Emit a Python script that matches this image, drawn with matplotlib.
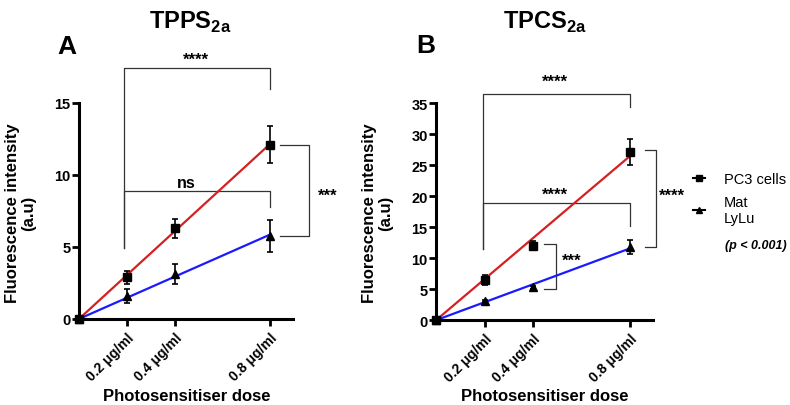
import numpy as np
import matplotlib
matplotlib.use("Agg")
import matplotlib.pyplot as plt
from matplotlib.lines import Line2D

plt.rcParams['font.family'] = ['Liberation Sans', 'DejaVu Sans']
plt.rcParams['mathtext.fontset'] = 'custom'
plt.rcParams['mathtext.rm'] = 'Liberation Sans'
plt.rcParams['mathtext.bf'] = 'Liberation Sans:bold'

# donnees
dose = [0, 0.2, 0.4, 0.8]
dose_labels = ['0.2 μg/ml', '0.4 μg/ml', '0.8 μg/ml']

tpps_pc3 = [0, 2.9, 6.3, 12.1]
tpps_pc3_err = [0, 0.45, 0.65, 1.3]
tpps_mat = [0, 1.6, 3.1, 5.75]
tpps_mat_err = [0, 0.5, 0.7, 1.1]

tpcs_pc3 = [0, 6.5, 12.0, 27.2]
tpcs_pc3_err = [0, 0.8, 0.7, 2.1]
tpcs_mat = [0, 3.1, 5.3, 11.8]
tpcs_mat_err = [0, 0.2, 0.2, 1.2]

RED = '#d62020'
BLUE = '#1a1aff'


def droite(x, y):
    # regression passant par l'origine
    x = np.array(x)
    y = np.array(y)
    pente = (x * y).sum() / (x * x).sum()
    return [0, 0.8], [0, pente * 0.8]


def crochet(ax, xs, ys, lw=0.9):
    ax.plot(xs, ys, color='#333333', lw=lw, clip_on=False, zorder=1)


def panneau(ax, pc3, pc3_err, mat, mat_err, ymax, ystep):
    xr, yr = droite(dose, pc3)
    xb, yb = droite(dose, mat)
    ax.plot(xr, yr, color=RED, lw=1.6, zorder=2)
    ax.plot(xb, yb, color=BLUE, lw=1.6, zorder=2)
    ax.errorbar(dose, pc3, yerr=pc3_err, fmt='s', color='black', ms=5.5,
                capsize=2.5, elinewidth=1.2, capthick=1.2, clip_on=False, zorder=3)
    ax.errorbar(dose, mat, yerr=mat_err, fmt='^', color='black', ms=5.5,
                capsize=2.5, elinewidth=1.2, capthick=1.2, clip_on=False, zorder=3)
    ax.set_xlim(0, 0.895)
    ax.set_ylim(0, ymax)
    ax.set_yticks(np.arange(0, ymax + 1, ystep))
    ax.set_xticks(dose[1:])
    ax.set_xticklabels(dose_labels, rotation=45, ha='right', rotation_mode='anchor',
                       fontsize=10, fontweight='bold')
    for lab in ax.get_yticklabels():
        lab.set_fontweight('bold')
        lab.set_fontsize(10.5)
    for s in ['top', 'right']:
        ax.spines[s].set_visible(False)
    for s in ['left', 'bottom']:
        ax.spines[s].set_linewidth(2.2)
    ax.tick_params(width=2, length=5, pad=1)
    ax.tick_params(axis='x', pad=3)


fig = plt.figure(figsize=(7.9, 4.06), dpi=100)

# Panneau A : TPPS2a
ax1 = fig.add_axes([0.100, 0.212, 0.271, 0.532])
panneau(ax1, tpps_pc3, tpps_pc3_err, tpps_mat, tpps_mat_err, 15, 5)
crochet(ax1, [0.19, 0.19, 0.8, 0.8], [4.9, 17.4, 17.4, 16.0])
ax1.text(0.49, 18.0, '****', ha='center', va='center', fontsize=12, fontweight='bold')
crochet(ax1, [0.19, 0.19, 0.8, 0.8], [4.9, 8.85, 8.85, 7.8])
ax1.text(0.45, 9.5, 'ns', ha='center', va='center', fontsize=11.5, fontweight='bold')
crochet(ax1, [0.842, 0.962, 0.962, 0.842], [12.1, 12.1, 5.75, 5.75])
ax1.text(1.0, 8.6, '***', ha='left', va='center', fontsize=12, fontweight='bold')

# Panneau B : TPCS2a
ax2 = fig.add_axes([0.552, 0.209, 0.275, 0.534])
panneau(ax2, tpcs_pc3, tpcs_pc3_err, tpcs_mat, tpcs_mat_err, 35, 5)
crochet(ax2, [0.192, 0.192, 0.8, 0.8], [11.5, 36.5, 36.5, 34.4])
ax2.text(0.49, 38.6, '****', ha='center', va='center', fontsize=12, fontweight='bold')
crochet(ax2, [0.192, 0.192, 0.8, 0.8], [11.5, 18.9, 18.9, 15.2])
ax2.text(0.49, 20.4, '****', ha='center', va='center', fontsize=12, fontweight='bold')
crochet(ax2, [0.859, 0.904, 0.904, 0.859], [27.5, 27.5, 11.8, 11.8])
ax2.text(0.917, 20.2, '****', ha='left', va='center', fontsize=12, fontweight='bold')
crochet(ax2, [0.444, 0.495, 0.495, 0.444], [12.3, 12.3, 5.1, 5.1])
ax2.text(0.52, 9.7, '***', ha='left', va='center', fontsize=12, fontweight='bold')

# titres et lettres
fig.text(190 / 790, 1 - 22 / 406, r'TPPS$_\mathbf{2a}$', ha='center', va='center',
         fontsize=17, fontweight='bold')
fig.text(545 / 790, 1 - 22 / 406, r'TPCS$_\mathbf{2a}$', ha='center', va='center',
         fontsize=17, fontweight='bold')
fig.text(57 / 790, 1 - 47 / 406, 'A', ha='left', va='center', fontsize=19, fontweight='bold')
fig.text(416 / 790, 1 - 46 / 406, 'B', ha='left', va='center', fontsize=19, fontweight='bold')

# etiquettes des axes
for xc in [21, 378]:
    fig.text(xc / 790, 1 - 213 / 406, 'Fluorescence intensity\n(a.u)', rotation=90,
             ha='center', va='center', multialignment='center',
             fontsize=12, fontweight='bold', linespacing=1.1)
for xc in [187, 545]:
    fig.text(xc / 790, 1 - 397 / 406, 'Photosensitiser dose', ha='center', va='center',
             fontsize=12, fontweight='bold')

# legende
poignees = [Line2D([], [], color='black', marker='s', ms=5, lw=1.5),
            Line2D([], [], color='black', marker='^', ms=5, lw=1.5)]
fig.legend(poignees, ['PC3 cells', 'Mat\nLyLu'], loc='upper left',
           bbox_to_anchor=(687 / 790, 1 - 167 / 406), frameon=False, fontsize=10.5,
           handlelength=0.85, handletextpad=1.3, labelspacing=0.6, borderaxespad=0)
fig.text(725 / 790, 1 - 246 / 406, '(p < 0.001)', ha='left', va='center', fontsize=9,
         fontweight='bold', style='italic')

fig.savefig('out.png', dpi=100)
